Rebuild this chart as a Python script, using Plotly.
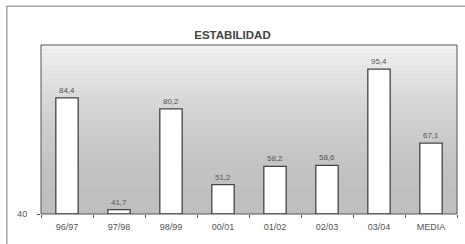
import plotly.graph_objects as go

categories = ["96/97", "97/98", "98/99", "00/01", "01/02", "02/03", "03/04", "MEDIA"]
values = [84.4, 41.7, 80.2, 51.2, 58.2, 58.6, 95.4, 67.1]
value_labels = ["84,4", "41,7", "80,2", "51,2", "58,2", "58,6", "95,4", "67,1"]
title_text = "ESTABILIDAD"
y_min = 40
y_max = 104.6

fig = go.Figure()
fig.add_trace(go.Bar(
    x=categories, y=[v - y_min for v in values], base=y_min,
    marker=dict(color="white", line=dict(color="#444444", width=1.3)),
    text=value_labels, textposition="outside", cliponaxis=False,
    textfont=dict(family="Liberation Sans, Arial", size=8, color="#555555"),
    width=0.43, hoverinfo="skip",
))

# gradient background in the plot area
shapes = []
n = 40
for i in range(n):
    t = (i + 0.5) / n  # 0 bottom, 1 top
    c = int(0xbe + (0xf4 - 0xbe) * t ** 1.8)
    shapes.append(dict(type="rect", xref="x domain", yref="y domain",
                       x0=0, x1=1, y0=i / n, y1=(i + 1) / n,
                       fillcolor=f"rgb({c},{c},{c})", line=dict(width=0), layer="below"))
# plot-area border
shapes.append(dict(type="rect", xref="x domain", yref="y domain", x0=0, x1=1, y0=0, y1=1,
                   line=dict(color="#555555", width=1), layer="above"))
# outer chart frame (top and left)
shapes.append(dict(type="line", xref="paper", yref="paper", x0=-0.082, x1=1.03, y0=1.23, y1=1.23,
                   line=dict(color="#777777", width=1)))
shapes.append(dict(type="line", xref="paper", yref="paper", x0=-0.082, x1=-0.082, y0=1.23, y1=-0.2,
                   line=dict(color="#777777", width=1)))

fig.update_layout(
    width=465, height=244,
    margin=dict(l=41, r=8, t=45, b=30),
    paper_bgcolor="white", plot_bgcolor="#d0d0d0",
    showlegend=False,
    shapes=shapes,
    title=dict(text="<b>" + title_text + "</b>", x=0.5, xanchor="center", y=0.855, yanchor="middle",
               font=dict(family="Liberation Sans, Arial", size=11.5, color="#444444")),
    xaxis=dict(showgrid=False, ticks="outside", ticklen=3, tickcolor="#555555",
               tickson="boundaries", showline=False, ticklabelstandoff=6,
               tickfont=dict(family="Liberation Sans, Arial", size=9, color="#555555")),
    yaxis=dict(range=[y_min, y_max], tickvals=[40], ticktext=["40"], showgrid=False,
               zeroline=False, showline=False, ticks="outside", ticklen=3, tickcolor="#555555",
               ticklabelstandoff=8,
               tickfont=dict(family="Liberation Sans, Arial", size=9, color="#555555")),
)
fig.write_html("out.html", config={"displayModeBar": False},
               post_script="document.body.style.margin='0';")
